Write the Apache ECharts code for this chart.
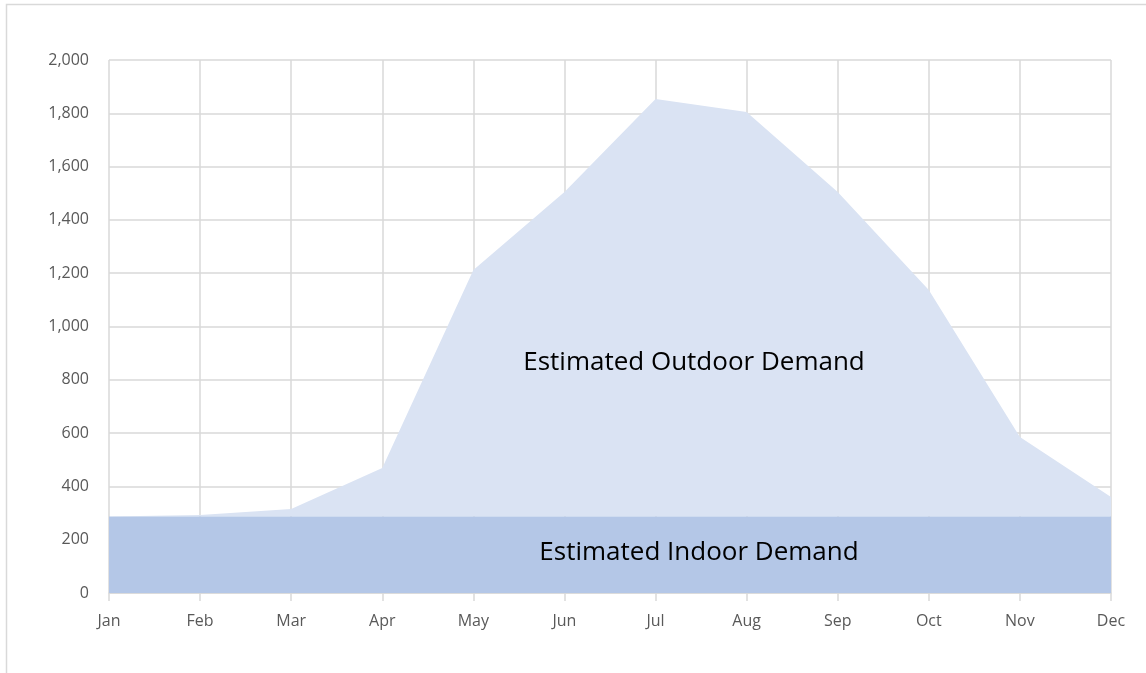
<!DOCTYPE html>
<html lang="en">
<head>
    <meta charset="UTF-8">
    <script type="text/javascript" src="https://cdn.jsdelivr.net/npm/echarts@6/dist/echarts.min.js"></script>
    <title>Estimated Monthly Demand</title>
    <style>
        html, body { margin: 0; padding: 0; background: #fff; }
        #chart { width: 1146px; height: 673px; }
    </style>
</head>
<body>

<div id="chart"></div>

<script>
    // monthly demand
    var months = ['Jan', 'Feb', 'Mar', 'Apr', 'May', 'Jun', 'Jul', 'Aug', 'Sep', 'Oct', 'Nov', 'Dec'];
    var indoorDemand = [287, 287, 287, 287, 287, 287, 287, 287, 287, 287, 287, 287];
    var outdoorDemand = [0, 6, 28, 182, 925, 1218, 1567, 1518, 1218, 850, 298, 73];
    var yTicks = [0, 200, 400, 600, 800, 1000, 1200, 1400, 1600, 1800, 2000];

    var mChart = echarts.init(document.getElementById('chart'));

    var labelFont = '"Open Sans", "Noto Sans", sans-serif';

    var option = {
        animation: false,
        grid: {
            left: 109,
            right: 35,
            top: 60,
            bottom: 80
        },
        xAxis: {
            type: 'category',
            data: months,
            boundaryGap: false,
            axisLine: { lineStyle: { color: '#d9d9d9', width: 1.5 } },
            axisTick: { show: true, length: 8, lineStyle: { color: '#d9d9d9', width: 1.5 } },
            axisLabel: { color: '#595959', fontSize: 16, fontFamily: labelFont, margin: 20 },
            splitLine: { show: true, lineStyle: { color: '#d9d9d9', width: 1.5 } }
        },
        yAxis: {
            type: 'value',
            min: yTicks[0],
            max: yTicks[yTicks.length - 1],
            interval: yTicks[1] - yTicks[0],
            axisLine: { show: false },
            axisTick: { show: false },
            axisLabel: {
                color: '#595959',
                fontSize: 16,
                fontFamily: labelFont,
                margin: 20,
                formatter: function (v) { return v.toLocaleString('en-US'); }
            },
            splitLine: { lineStyle: { color: '#d9d9d9', width: 1.5 } }
        },
        series: [
            {
                name: 'Estimated Indoor Demand',
                type: 'line',
                stack: 'demand',
                data: indoorDemand,
                symbol: 'none',
                lineStyle: { width: 0 },
                areaStyle: { color: '#b4c7e7', opacity: 1 },
                z: 3
            },
            {
                name: 'Estimated Outdoor Demand',
                type: 'line',
                stack: 'demand',
                data: outdoorDemand,
                symbol: 'none',
                lineStyle: { width: 0 },
                areaStyle: { color: '#dae3f3', opacity: 1 },
                z: 2
            }
        ],
        graphic: [
            {
                // chart frame, runs off the right and bottom of the picture
                type: 'rect',
                shape: { x: 6.5, y: 4.5, width: 1200, height: 700 },
                style: { fill: null, stroke: '#d9d9d9', lineWidth: 1.5 },
                z: -1
            },
            {
                type: 'text',
                x: 694,
                y: 363,
                style: {
                    text: 'Estimated Outdoor Demand',
                    fill: '#000',
                    font: '26px ' + labelFont,
                    textAlign: 'center',
                    textVerticalAlign: 'middle'
                },
                z: 10
            },
            {
                type: 'text',
                x: 699,
                y: 553,
                style: {
                    text: 'Estimated Indoor Demand',
                    fill: '#000',
                    font: '26px ' + labelFont,
                    textAlign: 'center',
                    textVerticalAlign: 'middle'
                },
                z: 10
            }
        ]
    };

    mChart.setOption(option);
</script>

</body>
</html>
